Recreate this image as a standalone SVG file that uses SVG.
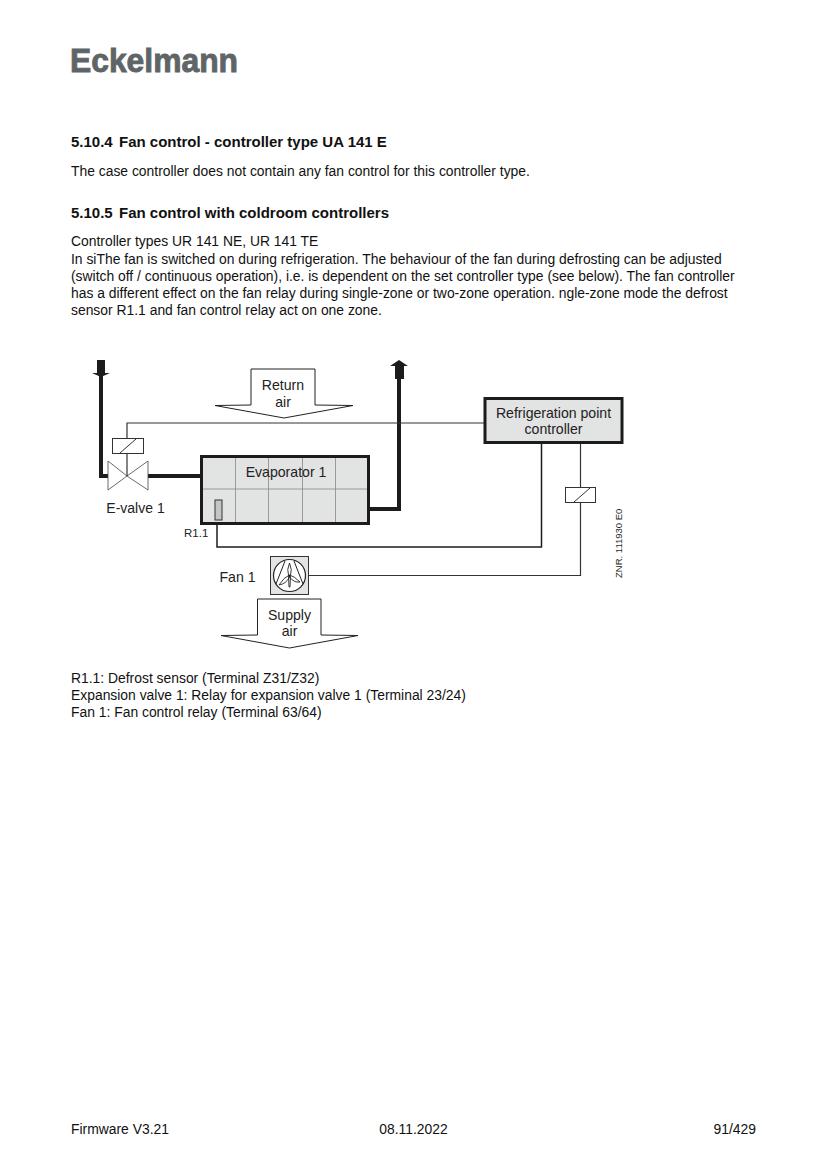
<svg xmlns="http://www.w3.org/2000/svg" width="827" height="1169" viewBox="0 0 827 1169">
<style>
text{font-family:"Liberation Sans",Arial,sans-serif;fill:#111}
.b{font-size:15px;font-weight:bold}
.t{font-size:13.88px}
.d{font-size:14.1px;fill:#222;text-anchor:middle}
.pipe{fill:none;stroke:#1c1c1c;stroke-width:4}
.w{fill:none;stroke:#1c1c1c;stroke-width:1.5}
.g{fill:none;stroke:#333;stroke-width:1.2}
.arrow{fill:#fff;stroke:#222;stroke-width:1}
.box{fill:#e2e3e3;stroke:#1c1c1c;stroke-width:3}
.thin{fill:none;stroke:#888;stroke-width:.8}
.rel{fill:#fff;stroke:#333;stroke-width:1}
</style>
<rect width="827" height="1169" fill="#fff"/>
<text x="70" y="72" font-size="33.5" font-weight="bold" textLength="168" lengthAdjust="spacingAndGlyphs" stroke="#5f6566" stroke-width=".9" style="fill:#5f6566">Eckelmann</text>
<text class="b" x="71" y="147">5.10.4<tspan x="119">Fan control - controller type UA 141 E</tspan></text>
<text class="t" x="71" y="176">The case controller does not contain any fan control for this controller type.</text>
<text class="b" x="71" y="218">5.10.5<tspan x="119">Fan control with coldroom controllers</tspan></text>
<text class="t" x="71" y="246">Controller types UR 141 NE, UR 141 TE</text>
<text class="t" x="71" y="264">In siThe fan is switched on during refrigeration. The behaviour of the fan during defrosting can be adjusted</text>
<text class="t" x="71" y="281">(switch off / continuous operation), i.e. is dependent on the set controller type (see below). The fan controller</text>
<text class="t" x="71" y="298">has a different effect on the fan relay during single-zone or two-zone operation. ngle-zone mode the defrost</text>
<text class="t" x="71" y="315">sensor R1.1 and fan control relay act on one zone.</text>

<g id="connectors">
<path class="pipe" d="M101 374V476H108"/>
<path class="pipe" d="M147 476H201"/>
<path class="pipe" d="M368 509H399V378"/>
<path d="M97 360H105V373H110L101 377L92 373H97Z" fill="#1c1c1c"/>
<path d="M395 379V366H390L399 360L408 366H404V379Z" fill="#1c1c1c"/>
<path class="g" d="M127 438V423H485"/>
<path class="w" d="M217 520V547H541.500V442"/>
<path class="g" d="M309 575.500H580.500V502"/>
<path class="g" d="M580.500 442V487"/>
</g>

<g id="return-air">
<path class="arrow" d="M251 369H315V405L353 405.500L284 418L215 405.500L251 405Z"/>
<text class="d" x="283" y="390">Return</text>
<text class="d" x="283" y="407">air</text>
</g>
<g id="e-valve">
<rect class="rel" x="112.500" y="438.500" width="31" height="15"/>
<path class="rel" d="M120 453L136 439"/>
<path d="M108 461L127 476L108 490ZM148 461L127 476L148 490Z" fill="#fff" stroke="#444" stroke-width=".8"/>
<path class="g" d="M127 453V476"/>
<text class="d" x="135.500" y="513" style="font-size:14px">E-valve 1</text>
</g>
<g id="evaporator">
<rect class="box" x="201.500" y="456.500" width="167" height="67"/>
<path class="thin" d="M235.500 458V522M268.500 458V522M302.500 458V522M335.500 458V522M203 489H367"/>
<text class="d" x="286" y="477">Evaporator 1</text>
<rect x="215" y="500" width="7" height="20" fill="#c4c6c6" stroke="#333" stroke-width="1"/>
<text x="184" y="537" font-size="11.500" style="fill:#222">R1.1</text>
</g>
<g id="controller">
<rect class="box" x="485" y="398.500" width="137" height="44"/>
<text class="d" x="553.500" y="418">Refrigeration point</text>
<text class="d" x="553.500" y="434">controller</text>
</g>
<g id="fan-relay">
<rect class="rel" x="565.500" y="487.500" width="30" height="15"/>
<path class="rel" d="M574 502L590 488"/>
</g>
<g id="fan">
<text class="d" x="237.500" y="582">Fan 1</text>
<rect x="270.500" y="556.500" width="38" height="38" fill="#e2e3e3" stroke="#333" stroke-width="1"/>
<circle cx="289.500" cy="575.500" r="16" fill="#fff" stroke="#222" stroke-width="1.200"/>
<path d="M276 584L285 561M294 561L303 584" fill="none" stroke="#222" stroke-width="1"/>
<path d="M289.500 563Q292.500 570 290.500 575L290 587H289L288.500 575Q286.500 570 289.500 563ZM289.500 575Q284 577 279 585Q286 584 289.500 577ZM289.500 575Q294 576 300 582Q294 583 289.500 577Z" fill="#fff" stroke="#222" stroke-width=".9"/>
</g>
<g id="supply-air">
<path class="arrow" d="M257.500 599H321V635L358 635.500L289.500 648L221 635.500L257.500 635Z"/>
<text class="d" x="289.500" y="620">Supply</text>
<text class="d" x="289.500" y="636">air</text>
</g>
<text transform="translate(622 578) rotate(-90)" font-size="9.500" style="fill:#2a2a1a">ZNR. 111930 E0</text>

<text class="t" x="71" y="683">R1.1: Defrost sensor (Terminal Z31/Z32)</text>
<text class="t" x="71" y="700">Expansion valve 1: Relay for expansion valve 1 (Terminal 23/24)</text>
<text class="t" x="71" y="717">Fan 1: Fan control relay (Terminal 63/64)</text>

<text class="t" x="71" y="1134">Firmware V3.21</text>
<text class="t" x="413.500" y="1134" text-anchor="middle">08.11.2022</text>
<text class="t" x="756" y="1134" text-anchor="end">91/429</text>
</svg>
